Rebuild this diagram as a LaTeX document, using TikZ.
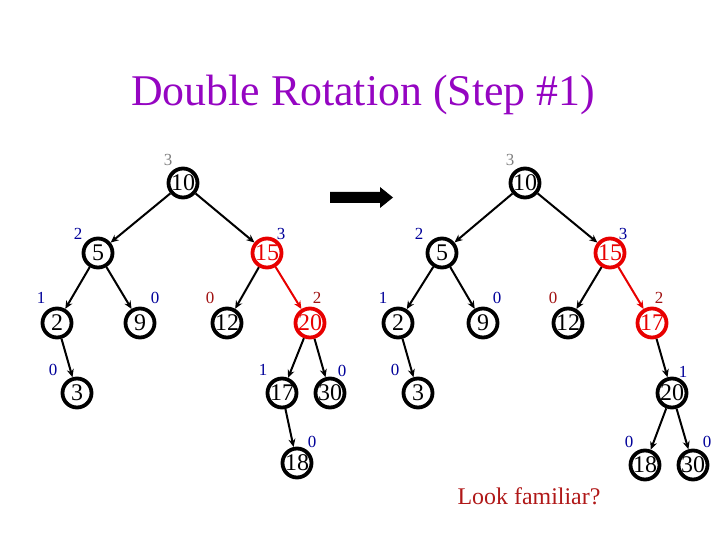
\documentclass[tikz,border=0pt]{standalone}
\usepackage{fontspec}
\setmainfont{Liberation Serif}
\usetikzlibrary{arrows.meta}
\definecolor{violet}{HTML}{9505C2}
\definecolor{hotred}{HTML}{E80000}
\definecolor{darkred}{HTML}{A01010}
\definecolor{navy}{HTML}{000099}
\definecolor{lookred}{HTML}{B01818}

\tikzset{
  key/.style={circle,draw,line width=3.8bp,minimum size=29bp,inner sep=0pt,
    font=\fontsize{24}{24}\selectfont},
  hotkey/.style={key,draw=hotred,text=hotred},
  edge/.style={->,line width=2bp},
  hotedge/.style={edge,draw=hotred},
  ht/.style={inner sep=0pt,font=\fontsize{17}{17}\selectfont,text=navy},
  rootht/.style={ht,text=gray},
  badht/.style={ht,text=darkred}
}

\begin{document}
\begin{tikzpicture}[x=1bp,y=-1bp,>={Stealth[length=8bp,width=7bp]}]
  \useasboundingbox (0,0) rectangle (720,540);

  \node[text=violet,font=\fontsize{44}{44}\selectfont] (title) at (363,95) {Double Rotation (Step \#1)};

  % before
  \node[key] (l10) at (183,183) {10};
  \node[key] (l5) at (98,253) {5};
  \node[hotkey] (l15) at (267,253) {15};
  \node[key] (l2) at (57,323) {2};
  \node[key] (l9) at (140,323) {9};
  \node[key] (l12) at (227,323) {12};
  \node[hotkey] (l20) at (310,323) {20};
  \node[key] (l3) at (77,393) {3};
  \node[key] (l17) at (282,393) {17};
  \node[key] (l30) at (330,393) {30};
  \node[key] (l18) at (297,463) {18};
  \draw[edge] (l10) -- (l5); \draw[edge] (l10) -- (l15);
  \draw[edge] (l5) -- (l2); \draw[edge] (l5) -- (l9);
  \draw[edge] (l15) -- (l12); \draw[hotedge] (l15) -- (l20);
  \draw[edge] (l2) -- (l3);
  \draw[edge] (l20) -- (l17); \draw[edge] (l20) -- (l30);
  \draw[edge] (l17) -- (l18);

  \node[rootht] (hl10) at (168,160) {3};
  \node[ht] (hl5) at (78,234) {2};
  \node[ht] (hl15) at (281,234) {3};
  \node[ht] (hl2) at (41,298) {1};
  \node[ht] (hl9) at (155,298) {0};
  \node[badht] (hl12) at (210,298) {0};
  \node[badht] (hl20) at (317,298) {2};
  \node[ht] (hl3) at (53,370) {0};
  \node[ht] (hl17) at (263,370) {1};
  \node[ht] (hl30) at (342,371) {0};
  \node[ht] (hl18) at (312,442) {0};

  % the big arrow
  \fill (330,192) -- (380,192) -- (380,187) -- (393,197.5) -- (380,208) -- (380,203) -- (330,203) -- cycle;

  % after
  \node[key] (r10) at (525,183) {10};
  \node[key] (r5) at (442,253) {5};
  \node[hotkey] (r15) at (610,253) {15};
  \node[key] (r2) at (398,323) {2};
  \node[key] (r9) at (483,323) {9};
  \node[key] (r12) at (568,323) {12};
  \node[hotkey] (r17) at (652,323) {17};
  \node[key] (r3) at (418,393) {3};
  \node[key] (r20) at (672,393) {20};
  \node[key] (r18) at (645,465) {18};
  \node[key] (r30) at (693,465) {30};
  \draw[edge] (r10) -- (r5); \draw[edge] (r10) -- (r15);
  \draw[edge] (r5) -- (r2); \draw[edge] (r5) -- (r9);
  \draw[edge] (r15) -- (r12); \draw[hotedge] (r15) -- (r17);
  \draw[edge] (r2) -- (r3);
  \draw[edge] (r17) -- (r20);
  \draw[edge] (r20) -- (r18); \draw[edge] (r20) -- (r30);

  \node[rootht] (hr10) at (510,160) {3};
  \node[ht] (hr5) at (419,234) {2};
  \node[ht] (hr15) at (623,234) {3};
  \node[ht] (hr2) at (383,298) {1};
  \node[ht] (hr9) at (497,298) {0};
  \node[badht] (hr12) at (553,298) {0};
  \node[badht] (hr17) at (659,298) {2};
  \node[ht] (hr3) at (395,370) {0};
  \node[ht] (hr20) at (683,372) {1};
  \node[ht] (hr18) at (629,442) {0};
  \node[ht] (hr30) at (707,442) {0};

  \node[text=lookred,font=\fontsize{24}{24}\selectfont] (look) at (529,496) {Look familiar?};
\end{tikzpicture}
\end{document}
